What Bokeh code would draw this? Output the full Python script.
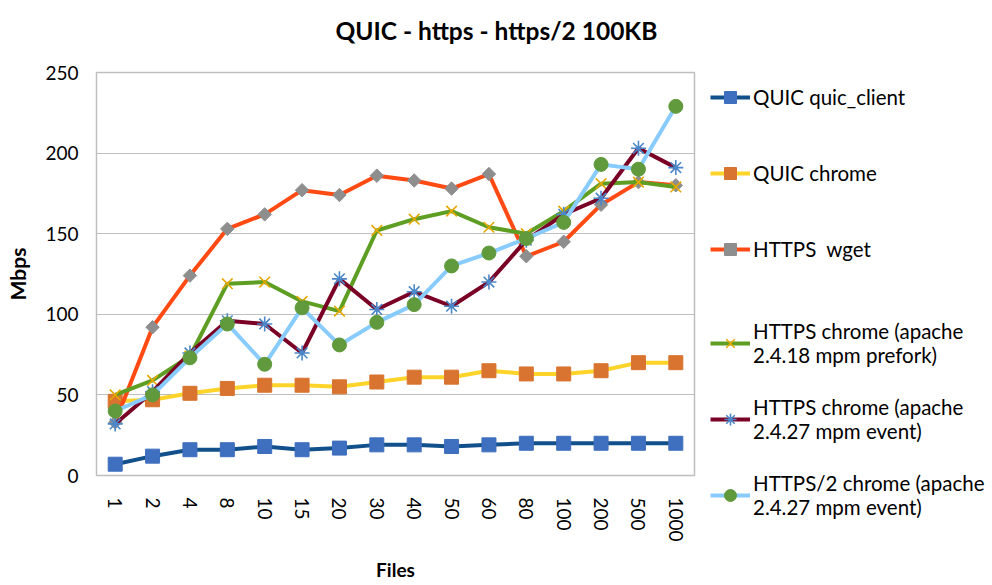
from bokeh.plotting import figure
from bokeh.models import FactorRange, Range1d, Legend, LegendItem, Title
from bokeh.layouts import row
from bokeh.embed import file_html
from bokeh.resources import INLINE

files = ["1", "2", "4", "8", "10", "15", "20", "30", "40", "50", "60", "80", "100", "200", "500", "1000"]
y_ticks = [0, 50, 100, 150, 200, 250]

quic_client = [7, 12, 16, 16, 18, 16, 17, 19, 19, 18, 19, 20, 20, 20, 20, 20]
quic_chrome = [46, 47, 51, 54, 56, 56, 55, 58, 61, 61, 65, 63, 63, 65, 70, 70]
https_wget = [33, 92, 124, 153, 162, 177, 174, 186, 183, 178, 187, 136, 145, 168, 182, 180]
https_prefork = [50, 59, 74, 119, 120, 108, 102, 152, 159, 164, 154, 150, 164, 181, 182, 179]
https_event = [32, 52, 76, 96, 94, 76, 122, 103, 114, 105, 120, 146, 162, 172, 203, 191]
https2_event = [40, 50, 73, 94, 69, 104, 81, 95, 106, 130, 138, 147, 157, 193, 190, 229]

series_names = ["QUIC quic_client", "QUIC chrome", "HTTPS  wget",
                "HTTPS chrome (apache\n2.4.18 mpm prefork)",
                "HTTPS chrome (apache\n2.4.27 mpm event)",
                "HTTPS/2 chrome (apache\n2.4.27 mpm event)"]

FONT = "Lato"
H = 584

p = figure(width=700, height=H, x_range=FactorRange(*files, range_padding=0),
           y_range=Range1d(0, 250), output_backend="svg", toolbar_location=None,
           min_border_left=96, min_border_right=6, min_border_top=72, min_border_bottom=109,
           title=None)

spacer = Title(text=" ", text_font_size="9.5px", text_font=FONT)
main_title = Title(text="QUIC - https - https/2 100KB", align="left", offset=239,
                   text_font=FONT, text_font_size="24.5px", text_font_style="bold",
                   text_color="#000000")
p.add_layout(spacer, "above")
p.add_layout(main_title, "above")

p.outline_line_color = "#BFBFBF"
p.outline_line_width = 1.5
p.xgrid.grid_line_color = None
p.ygrid.grid_line_color = "#BFBFBF"
p.ygrid.grid_line_width = 1.2

p.yaxis.ticker = y_ticks
for ax in (p.xaxis, p.yaxis):
    ax.axis_line_color = None
    ax.major_tick_line_color = None
    ax.minor_tick_line_color = None
    ax.major_label_text_font = FONT
    ax.major_label_text_font_size = "19px"
    ax.major_label_text_color = "#000000"
    ax.axis_label_text_font = FONT
    ax.axis_label_text_font_style = "bold"
    ax.axis_label_text_color = "#000000"

p.yaxis.axis_label = "Mbps"
p.yaxis.axis_label_text_font_size = "21px"
p.yaxis.major_label_standoff = 12
p.yaxis.axis_label_standoff = 12

p.xaxis.axis_label = "Files"
p.xaxis.axis_label_text_font_size = "19px"
p.xaxis.major_label_orientation = "vertical"
p.xaxis.major_label_standoff = 16
p.xaxis.axis_label_standoff = 13

styles = [
    dict(data=quic_client, line="#12508C", marker="square", mcolor="#3F6FBF", size=14, angle=0.0, mlw=1),
    dict(data=quic_chrome, line="#FFD42A", marker="square", mcolor="#D87430", size=14, angle=0.0, mlw=1),
    dict(data=https_wget, line="#FF4A14", marker="square", mcolor="#8E8E8E", size=9.5, angle=0.785398, mlw=1),
    dict(data=https_prefork, line="#5E9E22", marker="x", mcolor="#E6A800", size=15, angle=0.0, mlw=1.6),
    dict(data=https_event, line="#7A0025", marker="asterisk", mcolor="#4A88CA", size=15, angle=0.0, mlw=1.6),
    dict(data=https2_event, line="#88CCFF", marker="circle", mcolor="#609A3C", size=14, angle=0.0, mlw=1),
]

# legend panel: a second figure whose frame covers its whole canvas
p2 = figure(width=288, height=H, x_range=Range1d(0, 1), y_range=Range1d(0, 1),
            output_backend="svg", toolbar_location=None,
            x_axis_location=None, y_axis_location=None,
            min_border_left=0, min_border_right=0, min_border_top=0, min_border_bottom=0)
p2.grid.visible = False
p2.outline_line_color = None
for fig in (p, p2):
    try:
        fig.frame_align = False
    except Exception:
        pass

items = []
for name, st in zip(series_names, styles):
    p.line(files, st["data"], line_color=st["line"], line_width=4)
    p.scatter(files, st["data"], marker=st["marker"], size=st["size"], angle=st["angle"],
              fill_color=st["mcolor"], line_color=st["mcolor"], line_width=st["mlw"])
    # legend sample renderers (kept outside the visible range of the legend panel)
    l_line = p2.line(x=[-5, -4], y=[-5, -4], line_color=st["line"], line_width=4)
    l_mark = p2.scatter(x=[-5], y=[-5], marker=st["marker"], angle=st["angle"],
                        fill_color=st["mcolor"], line_color=st["mcolor"], line_width=st["mlw"])
    items.append(LegendItem(label=name, renderers=[l_line, l_mark]))

common = dict(orientation="vertical", glyph_width=40, glyph_height=30, label_standoff=3,
              padding=0, margin=0, border_line_color=None, background_fill_alpha=0,
              label_text_font=FONT, label_text_font_size="20.5px", label_text_color="#000000")
legend_a = Legend(items=items[:3], location=(10, 320), spacing=46, **common)
legend_b = Legend(items=items[3:], location=(10, 65), spacing=28, **common)
p2.add_layout(legend_a, "center")
p2.add_layout(legend_b, "center")

layout = row(p, p2)
open("out.html", "w").write(file_html(layout, INLINE))
